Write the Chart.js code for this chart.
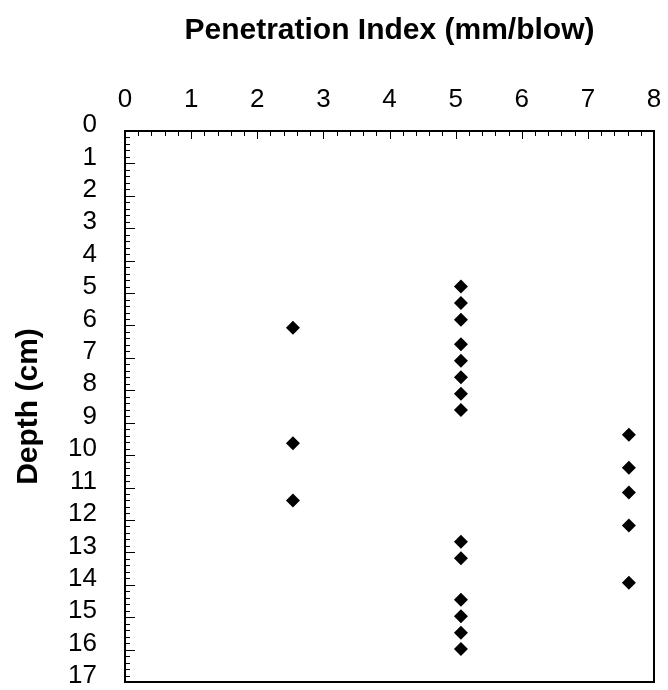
<!DOCTYPE html>
<html>
<head>
<meta charset="utf-8">
<script src="https://cdn.jsdelivr.net/npm/chart.js@4"></script>
<style>
  html, body { margin: 0; padding: 0; background: #fff; }
  #wrap { width: 668px; height: 690px; }
</style>
</head>
<body>
<div id="wrap"><canvas id="dcpChart" width="668" height="690"></canvas></div>
<script>
// DCP readings: penetration index per blow vs cumulative depth
const penIndex = [5.08, 5.08, 5.08, 2.54, 5.08, 5.08, 5.08, 5.08, 5.08, 7.62, 2.54,
                  7.62, 7.62, 2.54, 7.62, 5.08, 5.08, 7.62, 5.08, 5.08, 5.08, 5.08];
const depth = [4.80, 5.31, 5.82, 6.07, 6.58, 7.09, 7.60, 8.11, 8.61, 9.37, 9.63,
               10.39, 11.15, 11.40, 12.17, 12.67, 13.18, 13.94, 14.46, 14.97, 15.48, 15.98];
const xTicks = [0, 1, 2, 3, 4, 5, 6, 7, 8];
const yTicks = [0, 1, 2, 3, 4, 5, 6, 7, 8, 9, 10, 11, 12, 13, 14, 15, 16, 17];

const points = penIndex.map((v, i) => ({ x: v, y: depth[i] }));

// frame + inward tick marks like the original plot
const frameTicks = {
    id: 'frameTicks',
    afterDatasetsDraw(chart) {
        const { ctx, chartArea: a, scales } = chart;
        ctx.save();
        ctx.strokeStyle = '#000';
        ctx.lineWidth = 1;
        ctx.beginPath();
        for (let i = 0; i <= 170; i += 2) {
            const py = Math.round(scales.y.getPixelForValue(i / 10)) + 0.5;
            const len = i % 10 === 0 ? 10 : 5;
            ctx.moveTo(a.left, py);
            ctx.lineTo(a.left + len, py);
        }
        for (let i = 0; i <= 80; i += 2) {
            const px = Math.round(scales.x.getPixelForValue(i / 10)) + 0.5;
            const len = i % 10 === 0 ? 8 : 5;
            ctx.moveTo(px, a.top);
            ctx.lineTo(px, a.top + len);
        }
        ctx.stroke();
        ctx.lineWidth = 2;
        ctx.strokeRect(a.left, a.top, a.right - a.left, a.bottom - a.top);
        ctx.restore();
    }
};

const tickFont = { family: "'Liberation Sans', Arial, sans-serif", size: 26 };
const titleFont = { family: "'Liberation Sans', Arial, sans-serif", size: 30, weight: 'bold' };

new Chart(document.getElementById('dcpChart'), {
    type: 'scatter',
    data: {
        datasets: [{
            data: points,
            pointStyle: 'rectRot',
            pointRadius: 7,
            pointBackgroundColor: '#000',
            pointBorderWidth: 0,
            showLine: false
        }]
    },
    options: {
        responsive: false,
        animation: false,
        layout: { padding: { left: 0, top: 0, right: 14, bottom: 8 } },
        scales: {
            x: {
                type: 'linear',
                position: 'top',
                min: 0,
                max: 8,
                afterBuildTicks: s => { s.ticks = xTicks.map(v => ({ value: v })); },
                afterFit: s => {
                    s.height = 131;
                    s.paddingLeft = 0;
                    s.paddingRight = 0;
                },
                grid: { display: false, drawTicks: false },
                border: { display: false },
                ticks: { padding: 16, color: '#000', autoSkip: false, maxRotation: 0, font: tickFont },
                title: {
                    display: true,
                    text: 'Penetration Index (mm/blow)',
                    color: '#000',
                    padding: { top: 13, bottom: 0 },
                    font: titleFont
                }
            },
            y: {
                type: 'linear',
                reverse: true,
                min: 0,
                max: 17,
                afterBuildTicks: s => { s.ticks = yTicks.map(v => ({ value: v })); },
                afterFit: s => {
                    s.width = 125;
                    s.paddingTop = 0;
                    s.paddingBottom = 0;
                },
                grid: { display: false, drawTicks: false },
                border: { display: false },
                ticks: {
                    padding: 28,
                    color: '#000',
                    autoSkip: false,
                    // empty second line lifts each label a few px, as in the original
                    callback: v => [String(v), ''],
                    font: { family: tickFont.family, size: 26, lineHeight: 0.46 }
                },
                title: {
                    display: true,
                    text: 'Depth (cm)',
                    color: '#000',
                    padding: { top: 11, bottom: 0 },
                    font: titleFont
                }
            }
        },
        plugins: {
            legend: { display: false },
            tooltip: { enabled: false }
        }
    },
    plugins: [frameTicks]
});
</script>
</body>
</html>
